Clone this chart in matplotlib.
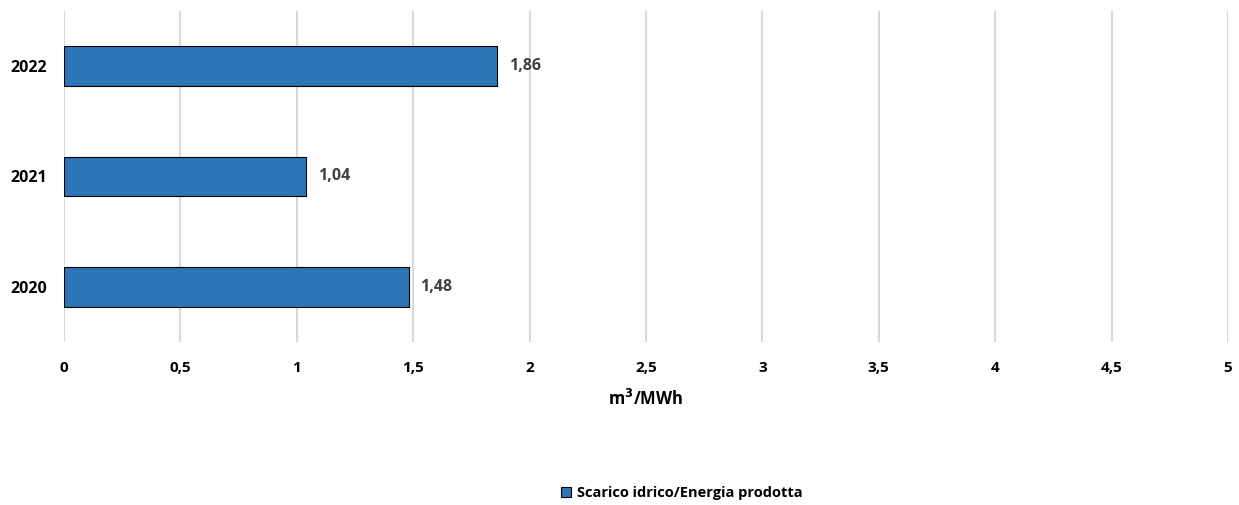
import matplotlib.pyplot as plt
from matplotlib.patches import Patch

# Dati
anni = ["2020", "2021", "2022"]
valori = [1.48, 1.04, 1.86]
etichette = ["1,48", "1,04", "1,86"]
serie = "Scarico idrico/Energia prodotta"
x_ticks = [0, 0.5, 1, 1.5, 2, 2.5, 3, 3.5, 4, 4.5, 5]
x_tick_labels = ["0", "0,5", "1", "1,5", "2", "2,5", "3", "3,5", "4", "4,5", "5"]

plt.rcParams["font.family"] = ["Open Sans", "DejaVu Sans"]

fig = plt.figure(figsize=(12.39, 5.05), dpi=100)
ax = fig.add_axes([0.0517, 0.323, 0.9394, 0.655])

pos = list(range(len(anni)))
bars = ax.barh(pos, valori, height=0.36, color="#2e75b6", edgecolor="black", linewidth=0.8, zorder=3)

for b, lab in zip(bars, etichette):
    ax.text(b.get_width() + 0.05, b.get_y() + b.get_height() / 2, lab,
            va="center", ha="left", fontsize=11.5, fontweight="bold", color="#404040")

ax.set_xlim(0, 5)
ax.set_ylim(-0.5, 2.5)
ax.set_xticks(x_ticks)
ax.set_xticklabels(x_tick_labels, fontsize=11, fontweight="bold")
ax.set_yticks(pos)
ax.set_yticklabels(anni, fontsize=11.5, fontweight="bold")
ax.tick_params(length=0, pad=14)
ax.tick_params(axis="y", pad=12)
ax.grid(axis="x", color="#d9d9d9", linewidth=1.5, zorder=0)
for s in ax.spines.values():
    s.set_visible(False)

ax.set_xlabel("m$^\\mathbf{3}$/MWh", fontsize=12, fontweight="bold", labelpad=10)

fig.legend(handles=[Patch(facecolor="#2e75b6", edgecolor="black", linewidth=0.8, label=serie)],
           loc="center", bbox_to_anchor=(0.55, 0.024), frameon=False,
           prop={"size": 10.5, "weight": "bold"}, handlelength=0.7, handleheight=0.7, handletextpad=0.4)

fig.savefig("out.png", dpi=100)
